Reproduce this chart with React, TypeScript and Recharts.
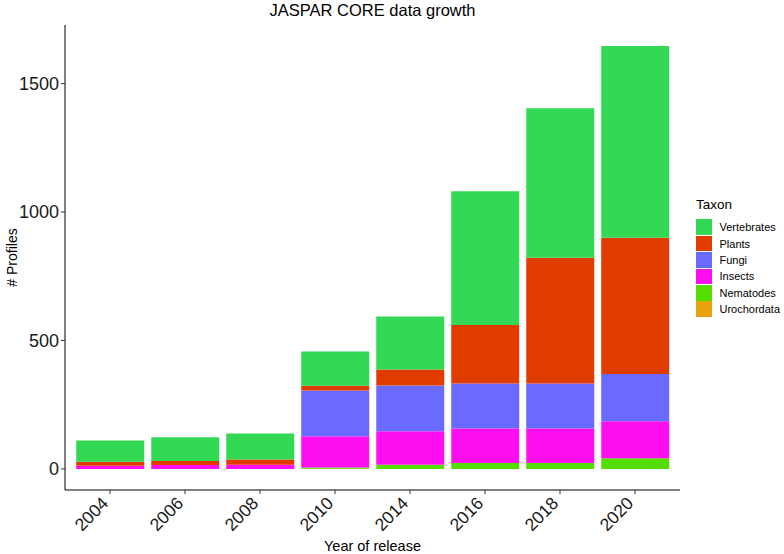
import { BarChart, Bar, XAxis, YAxis, Label } from "recharts";

const years = ["2004", "2006", "2008", "2010", "2014", "2016", "2018", "2020"];
const vertebrates = [83, 92, 101, 133, 206, 521, 582, 746];
const plants = [16, 16, 21, 19, 62, 227, 489, 530];
const fungi = [0, 0, 0, 178, 178, 176, 176, 184];
const insects = [12, 15, 16, 121, 131, 134, 134, 144];
const nematodes = [0, 0, 0, 5, 16, 23, 23, 42];
const urochordata = [0, 0, 0, 1, 0, 0, 0, 0];
const yTicks = [0, 500, 1000, 1500];

// bottom of the stack first
const taxa = [
  { key: "Urochordata", values: urochordata, color: "#E8A30C" },
  { key: "Nematodes", values: nematodes, color: "#55DD00" },
  { key: "Insects", values: insects, color: "#FF0FF0" },
  { key: "Fungi", values: fungi, color: "#6A6AFF" },
  { key: "Plants", values: plants, color: "#E03C00" },
  { key: "Vertebrates", values: vertebrates, color: "#33D954" },
];

const data = years.map((year, i) => {
  const row: Record<string, string | number> = { year };
  taxa.forEach((t) => (row[t.key] = t.values[i]));
  return row;
});

const font = "'Liberation Sans', Arial, Helvetica, sans-serif";

function YearTick({ x, y, payload }: { x?: number; y?: number; payload?: { value: string } }) {
  return (
    <g transform={`translate(${(x ?? 0) - 3},${(y ?? 0) + 6}) rotate(-45)`}>
      <text x={0} y={0} dy="0.2em" textAnchor="end" fill="#1a1a1a" fontSize={17.5} fontFamily={font}>
        {payload?.value}
      </text>
    </g>
  );
}

export default function App() {
  const legendRows = [...taxa].reverse();
  return (
    <div style={{ position: "absolute", left: 0, top: 0, width: 784, height: 554, background: "#fff" }}>
      <div
        style={{
          position: "absolute",
          left: 65,
          width: 615,
          top: 1,
          textAlign: "center",
          fontFamily: font,
          fontSize: 16.5,
          color: "#000",
        }}
      >
        JASPAR CORE data growth
      </div>
      <BarChart
        width={784}
        height={554}
        data={data}
        margin={{ top: 25, right: 104, bottom: 0, left: 0 }}
        barCategoryGap="5%"
      >
        <XAxis
          dataKey="year"
          height={64}
          padding={{ left: 7.5, right: 7.5 }}
          axisLine={{ stroke: "#000", strokeWidth: 1 }}
          tickLine={{ stroke: "#333", strokeWidth: 1 }}
          tickSize={4}
          tick={<YearTick />}
          interval={0}
        >
          <Label value="Year of release" position="insideBottom" offset={3} fill="#000" fontSize={14.5} fontFamily={font} />
        </XAxis>
        <YAxis
          width={65}
          domain={[-82, 1728]}
          ticks={yTicks}
          allowDataOverflow
          axisLine={{ stroke: "#000", strokeWidth: 1 }}
          tickLine={{ stroke: "#333", strokeWidth: 1 }}
          tickSize={4}
          tick={{ fill: "#1a1a1a", fontSize: 18, fontFamily: font }}
        >
          <Label
            value="# Profiles"
            angle={-90}
            position="insideLeft"
            offset={12}
            style={{ textAnchor: "middle" }}
            fill="#000"
            fontSize={14}
            fontFamily={font}
          />
        </YAxis>
        {taxa.map((t) => (
          <Bar key={t.key} dataKey={t.key} stackId="a" fill={t.color} isAnimationActive={false} />
        ))}
      </BarChart>
      <div style={{ position: "absolute", left: 696, top: 197, fontFamily: font }}>
        <div style={{ fontSize: 13.5, color: "#000", marginBottom: 7 }}>Taxon</div>
        {legendRows.map((t) => (
          <div key={t.key} style={{ display: "flex", alignItems: "center", height: 16.4 }}>
            <div style={{ width: 16, height: 15.5, background: t.color }} />
            <span style={{ fontSize: 11, marginLeft: 7.5, color: "#000" }}>{t.key}</span>
          </div>
        ))}
      </div>
    </div>
  );
}
